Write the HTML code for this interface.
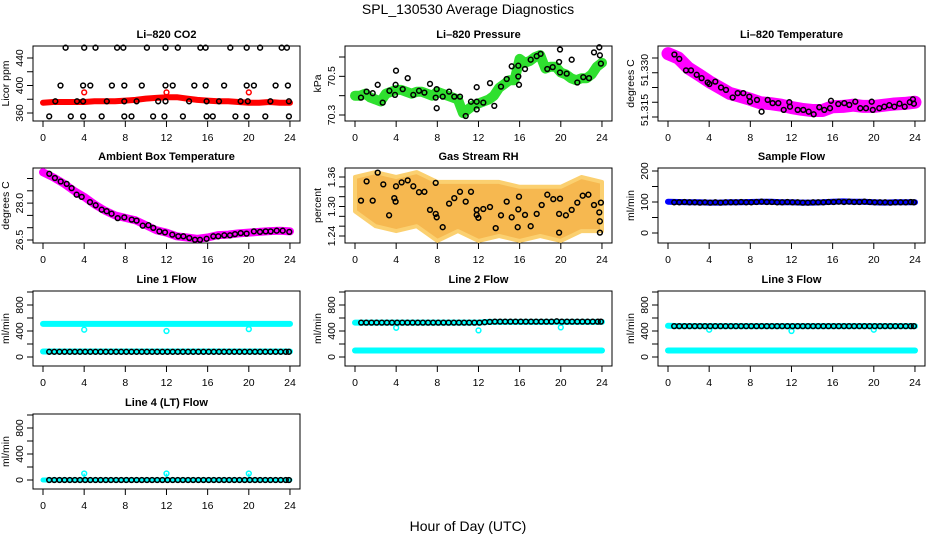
<!DOCTYPE html>
<html><head><meta charset="utf-8"><title>SPL_130530 Average Diagnostics</title>
<style>
html,body{margin:0;padding:0;background:#fff;}
svg{display:block;font-family:"Liberation Sans",sans-serif;}
</style></head>
<body>
<svg id="fig" width="936" height="540" viewBox="0 0 936 540" xmlns="http://www.w3.org/2000/svg">
<rect x="0" y="0" width="936" height="540" fill="#fff"/>
<text x="468" y="14" font-size="14" text-anchor="middle">SPL_130530  Average Diagnostics</text>
<text x="468" y="531" font-size="14" text-anchor="middle">Hour of Day (UTC)</text>
</svg>
<script>
// ---------- shared data ----------
const hrs = [0.6,1.1,1.6,2.1,2.6,3.1,3.6,4.1,4.6,5.1,5.6,6.1,6.6,7.1,7.6,8.1,8.6,9.1,9.6,10.1,10.6,11.1,11.6,12.1,12.6,13.1,13.6,14.1,14.6,15.1,15.6,16.1,16.6,17.1,17.6,18.1,18.6,19.1,19.6,20.1,20.6,21.1,21.6,22.1,22.6,23.1,23.6,23.9];
const bandHrs = [0,1,2,3,4,5,6,7,8,9,10,11,12,13,14,15,16,17,18,19,20,21,22,23,24];
const xTicks = [0,4,8,12,16,20,24];

// CO2
const co2Hrs = [2.2,4.0,5.1,7.2,7.8,10.1,11.9,13.1,15.3,15.8,18.2,19.8,21.1,23.2,23.7, 1.7,3.9,4.6,6.7,7.9,9.6,11.9,12.6,14.7,15.8,17.6,19.8,20.5,22.6,23.8, 1.2,3.3,3.9,6.2,7.9,9.1,11.2,11.9,14.2,15.9,17.1,19.2,19.9,22.1,23.9, 0.6,2.7,3.9,5.7,7.9,8.6,10.7,11.8,13.6,15.9,16.5,18.7,19.8,21.6,23.9];
const co2Vals = [455,455,455,455,455,455,455,455,455,455,455,455,455,455,455, 400,400,400,400,400,400,400,400,400,400,400,400,400,400,400, 377,377,377,377,377,377,377,377,377,377,377,377,377,377,377, 355,355,355,355,355,355,355,355,355,355,355,355,355,355,355];
const co2Red = [375,376,376,376,376,377,377,377,378,379,381,382,383,383,381,379,378,377,377,376,375,375,376,375,375];
const co2RedOutHrs = [4,12,20];
const co2RedOutVals = [390,390,390];

// Pressure
const prHrs = [0.58,1.13,1.72,2.21,2.69,3.34,3.89,3.95,3.98,4.64,5.12,5.67,6.22,6.74,7.29,7.84,7.94,7.94,8.52,9.14,9.65,10.2,10.76,11.27,11.83,11.83,11.83,12.47,13.12,13.54,14.19,14.74,15.23,15.87,15.87,15.94,16.52,17.07,17.66,18.04,18.69,19.21,19.83,19.92,19.92,20.57,21.06,21.6,22.19,22.74,23.23,23.74,23.8,23.9];
const prVals = [70.390,70.421,70.413,70.456,70.364,70.425,70.404,70.456,70.529,70.434,70.491,70.404,70.425,70.416,70.461,70.390,70.434,70.335,70.395,70.421,70.395,70.395,70.295,70.369,70.444,70.369,70.329,70.364,70.465,70.347,70.447,70.486,70.552,70.555,70.499,70.456,70.538,70.586,70.604,70.616,70.538,70.548,70.574,70.639,70.520,70.514,70.586,70.468,70.496,70.491,70.624,70.650,70.609,70.566];
const prBandHrs = [0,0.5,1,1.5,2,2.5,3,3.5,4,4.5,5,5.5,6,6.5,7,7.5,8,8.5,9,9.5,10,10.5,11,11.5,12,12.5,13,13.5,14,14.5,15,15.5,16,16.5,17,17.5,18,18.5,19,19.5,20,20.5,21,21.5,22,22.5,23,23.5,24];
const prGreen = [70.40,70.40,70.41,70.39,70.38,70.37,70.41,70.42,70.43,70.43,70.42,70.41,70.42,70.42,70.41,70.40,70.42,70.41,70.40,70.39,70.38,70.31,70.33,70.35,70.36,70.37,70.38,70.40,70.44,70.46,70.48,70.48,70.59,70.57,70.58,70.60,70.61,70.54,70.55,70.55,70.52,70.51,70.49,70.48,70.49,70.49,70.51,70.55,70.57];

// Li-820 temperature
const ltHrs = [0.62,1.10,1.75,2.24,2.79,3.27,3.86,4.02,4.6,5.15,5.64,6.29,6.77,7.32,7.90,7.97,8.65,9.1,9.69,10.17,10.72,11.24,11.79,11.86,12.6,13.15,13.67,14.16,14.7,15.19,15.84,15.74,16.55,17.13,17.62,18.2,18.69,19.24,19.8,19.9,20.53,21.02,21.51,22.0,22.5,23.0,23.5,23.8,23.9];
const ltVals = [51.3362,51.3347,51.3308,51.3308,51.3293,51.3282,51.3267,51.3262,51.3270,51.3250,51.3242,51.3216,51.3231,51.3231,51.3219,51.3202,51.3208,51.3168,51.3208,51.3197,51.3197,51.3174,51.3200,51.3185,51.3174,51.3174,51.3168,51.3159,51.3183,51.3174,51.3205,51.3180,51.3194,51.3197,51.3191,51.3202,51.3180,51.3180,51.3202,51.3174,51.3180,51.3185,51.3190,51.3185,51.3195,51.3185,51.3200,51.3210,51.3195];
const ltBand = [51.3365,51.3350,51.3315,51.3293,51.3270,51.3250,51.3230,51.3220,51.3210,51.3198,51.3195,51.3190,51.3182,51.3176,51.3172,51.3172,51.3185,51.3186,51.3190,51.3186,51.3186,51.3190,51.3194,51.3196,51.3200];

// Ambient temperature
const abHrs = [0.61,1.16,1.72,2.30,2.78,3.27,3.76,4.57,5.12,5.70,6.19,6.67,7.26,7.90,8.62,9.10,9.69,10.24,10.72,11.31,11.86,12.57,13.15,13.64,14.22,14.77,15.26,15.90,16.55,17.04,17.62,18.17,18.66,19.21,19.79,20.5,21.09,21.64,22.12,22.71,23.29,23.94];
const abVals = [29.19,29.02,28.88,28.78,28.61,28.34,28.25,28.04,27.91,27.73,27.67,27.57,27.39,27.42,27.33,27.29,27.08,27.10,26.99,26.85,26.81,26.72,26.65,26.65,26.58,26.51,26.51,26.55,26.65,26.65,26.69,26.69,26.74,26.78,26.76,26.85,26.83,26.85,26.85,26.88,26.88,26.83];
const abBand = [29.25,29.05,28.80,28.50,28.25,27.95,27.70,27.50,27.40,27.30,27.10,26.90,26.80,26.65,26.60,26.55,26.60,26.70,26.72,26.77,26.80,26.83,26.86,26.88,26.85];

// Gas stream RH
const rhHrs = [0.58,1.13,1.72,2.21,2.75,3.31,3.82,3.95,3.98,4.53,5.12,5.67,6.22,6.74,7.29,7.84,7.84,7.94,8.52,9.14,9.65,10.2,10.76,11.27,11.83,11.83,11.99,12.47,13.12,13.67,14.19,14.74,15.23,15.81,15.87,15.94,16.52,17.07,17.66,18.14,18.69,19.27,19.83,19.83,19.92,20.50,21.06,21.6,22.13,22.68,23.23,23.74,23.8,23.8,23.9];
const rhVals = [1.312,1.351,1.312,1.369,1.345,1.282,1.317,1.310,1.341,1.349,1.353,1.341,1.329,1.330,1.293,1.348,1.285,1.278,1.258,1.306,1.317,1.330,1.310,1.330,1.293,1.283,1.277,1.295,1.299,1.256,1.282,1.310,1.278,1.258,1.294,1.320,1.283,1.260,1.285,1.303,1.324,1.315,1.247,1.285,1.316,1.282,1.293,1.308,1.322,1.324,1.303,1.288,1.270,1.247,1.308];
const rhBandHrs = [0,2,4,6,8,10,12,14,16,18,20,22,24];
const rhUpper = [1.36,1.37,1.36,1.37,1.35,1.35,1.35,1.35,1.34,1.34,1.34,1.36,1.35];
const rhLower = [1.29,1.26,1.25,1.26,1.23,1.25,1.23,1.24,1.23,1.24,1.23,1.25,1.25];

// Sample flow
const sfVals = [99,99,100,99,99,98,99,98,99,98,99,99,99,100,99,99,100,101,100,100,99,99,100,99,99,98,98,99,99,99,100,100,101,100,101,100,100,101,100,99,99,99,98,99,99,99,100,99];
const sfBand = [101,100,99,99,98,98,99,99,100,101,101,99,99,98,98,99,101,102,101,101,99,98,99,99,99];

// Line flows
const l1Black = [80,80,80,80,80,80,80,80,80,80,80,80,80,80,80,80,80,80,80,80,80,80,80,80,80,80,80,80,80,80,80,80,80,80,80,80,80,80,80,80,80,80,80,80,80,80,80,80];
const l1CyanHigh = [510,510,510,510,510,510,510,510,510,510,510,510,510,510,510,510,510,510,510,510,510,510,510,510,510];
const l1CyanLow = [85,85,85,85,85,85,85,85,85,85,85,85,85,85,85,85,85,85,85,85,85,85,85,85,85];
const l1DipHrs = [4,12,20];
const l1DipVals = [420,400,430];

const l2Black = [530,530,530,530,530,530,530,530,530,530,530,530,530,530,530,530,530,530,530,530,530,530,530,530,535,540,545,545,545,545,545,545,545,545,545,545,545,545,550,545,545,545,545,545,545,545,545,545];
const l2CyanHigh = [530,530,530,530,530,530,530,530,530,530,530,530,530,540,540,540,540,540,540,540,540,540,540,540,540];
const l2CyanLow = [100,100,100,100,100,100,100,100,100,100,100,100,100,100,100,100,100,100,100,100,100,100,100,100,100];
const l2DipHrs = [4,12,20];
const l2DipVals = [450,410,455];

const l3Black = [475,475,475,475,475,475,475,475,475,475,475,475,475,475,475,475,475,475,475,475,475,475,475,475,475,475,475,475,475,475,475,475,475,475,475,475,475,475,475,475,475,475,475,475,475,475,475,475];
const l3CyanHigh = [480,475,475,475,475,475,475,475,475,475,475,475,475,475,475,475,475,475,475,475,475,475,475,475,475];
const l3CyanLow = [100,100,100,100,100,100,100,100,100,100,100,100,100,100,100,100,100,100,100,100,100,100,100,100,100];
const l3DipHrs = [4,12,20];
const l3DipVals = [420,400,420];

const l4Black = [0,0,0,0,0,0,0,0,0,0,0,0,0,0,0,0,0,0,0,0,0,0,0,0,0,0,0,0,0,0,0,0,0,0,0,0,0,0,0,0,0,0,0,0,0,0,0,0];
const l4CyanLow = [0,0,0,0,0,0,0,0,0,0,0,0,0,0,0,0,0,0,0,0,0,0,0,0,0];
const l4SpikeHrs = [4,12,20];
const l4SpikeVals = [100,100,100];

// ---------- drawing ----------
const NS = 'http://www.w3.org/2000/svg';
const svg = document.getElementById('fig');
const colLeft = [33, 345, 658];
const rowTop = [46, 168, 291, 414];
const BW = 267, BH = 75;

function mk(tag, parent) {
  const e = document.createElementNS(NS, tag);
  parent.appendChild(e);
  return e;
}

function makePanel(cfg) {
  const g = mk('g', svg);
  
  
  const L = colLeft[cfg.col], T = rowTop[cfg.row];
  const xs = h => L + 10 + h * 10.29;
  const ys = v => T + cfg.o0 + (v - cfg.v0) * (cfg.o1 - cfg.o0) / (cfg.v1 - cfg.v0);
  const box = mk('rect', g);
  box.setAttribute('x', L); box.setAttribute('y', T); box.setAttribute('width', BW); box.setAttribute('height', BH);
  box.setAttribute('fill', 'none'); box.setAttribute('stroke', '#000'); box.setAttribute('stroke-width', '1');
  
  
  const t = mk('text', g);
  t.setAttribute('x', L + BW / 2); t.setAttribute('y', T - 8); t.setAttribute('text-anchor', 'middle');
  t.setAttribute('font-size', '11'); t.setAttribute('font-weight', 'bold');
  t.textContent = cfg.title;
  
  
  const yl = mk('text', g);
  const ylc = T + BH / 2;
  yl.setAttribute('x', L - 24); yl.setAttribute('y', ylc); yl.setAttribute('text-anchor', 'middle');
  yl.setAttribute('font-size', '10.5'); yl.setAttribute('transform', 'rotate(-90 ' + (L - 24) + ' ' + ylc + ')');
  yl.textContent = cfg.ylab;
  
  
  xTicks.forEach(h => {
    const tk = mk('line', g);
    tk.setAttribute('x1', xs(h)); tk.setAttribute('x2', xs(h)); tk.setAttribute('y1', T + BH); tk.setAttribute('y2', T + BH + 6);
    tk.setAttribute('stroke', '#000');
    
    
    const tl = mk('text', g);
    tl.setAttribute('x', xs(h)); tl.setAttribute('y', T + BH + 20); tl.setAttribute('text-anchor', 'middle');
    tl.setAttribute('font-size', '10.5');
    tl.textContent = h;
    
    
  });
  cfg.yticks.forEach(v => {
    const tk = mk('line', g);
    tk.setAttribute('x1', L - 6); tk.setAttribute('x2', L); tk.setAttribute('y1', ys(v)); tk.setAttribute('y2', ys(v));
    tk.setAttribute('stroke', '#000');
    
    
  });
  cfg.ylabels.forEach(lb => {
    const yy = lb.y !== undefined ? T + lb.y : ys(lb.v);
    const tl = mk('text', g);
    tl.setAttribute('x', L - 10); tl.setAttribute('y', yy); tl.setAttribute('text-anchor', 'middle');
    tl.setAttribute('font-size', '10.5');
    tl.setAttribute('transform', 'rotate(-90 ' + (L - 10) + ' ' + yy + ')');
    tl.textContent = lb.t;
    
    
  });
  const clip = mk('g', g);
  return {g: clip, xs, ys, L, T};
}

function band(p, hours, vals, color, w, name) {
  const pl = mk('polyline', p.g);
  pl.setAttribute('points', hours.map((h, i) => p.xs(h).toFixed(1) + ',' + p.ys(vals[i]).toFixed(1)).join(' '));
  pl.setAttribute('fill', 'none'); pl.setAttribute('stroke', color); pl.setAttribute('stroke-width', w);
  pl.setAttribute('stroke-linejoin', 'round'); pl.setAttribute('stroke-linecap', 'round');
  
  
}

function points(p, hours, vals, color, name, r) {
  hours.forEach((h, i) => {
    const c = mk('circle', p.g);
    c.setAttribute('cx', p.xs(h).toFixed(1)); c.setAttribute('cy', p.ys(vals[i]).toFixed(1));
    c.setAttribute('r', r || 2.4); c.setAttribute('fill', 'none'); c.setAttribute('stroke', color); c.setAttribute('stroke-width', '1.5');
    
    
  });
}

const flowTicks = [0,200,400,600,800,1000];
const flowLabels = [{v:0,t:'0'},{v:400,t:'400'},{v:800,t:'800'}];

let p = makePanel({name:'co2', col:0,row:0, v0:360,o0:67, v1:440,o1:12, title:'Li\u2013820 CO2', ylab:'Licor ppm',
  yticks:[360,380,400,420,440], ylabels:[{v:360,t:'360'},{v:400,t:'400'},{v:440,t:'440'}]});
band(p, bandHrs, co2Red, '#ff0000', 6, 'co2-red-series');
points(p, co2RedOutHrs, co2RedOutVals, '#ff0000', 'co2-red-point');
points(p, co2Hrs, co2Vals, '#000', 'co2-black-point');

p = makePanel({name:'pressure', col:1,row:0, v0:70.3,o0:69, v1:70.6,o1:11, title:'Li\u2013820 Pressure', ylab:'kPa',
  yticks:[70.3,70.4,70.5,70.6], ylabels:[{v:70.3,t:'70.3'},{v:70.5,t:'70.5'}]});
band(p, prBandHrs, prGreen, '#2fe02f', 10, 'pressure-green-series');
points(p, prHrs, prVals, '#000', 'pressure-black-point');

p = makePanel({name:'li820-temp', col:2,row:0, v0:51.315,o0:71, v1:51.335,o1:12, title:'Li\u2013820 Temperature', ylab:'degrees C',
  yticks:[51.315,51.32,51.325,51.33,51.335], ylabels:[{y:24,t:'51.330'},{y:64,t:'51.315'}]});
band(p, bandHrs, ltBand, '#ff00ff', 13, 'li820-temp-magenta-series');
points(p, ltHrs, ltVals, '#000', 'li820-temp-black-point');

p = makePanel({name:'ambient-temp', col:0,row:1, v0:26.5,o0:72, v1:29.0,o1:10.5, title:'Ambient Box Temperature', ylab:'degrees C',
  yticks:[26.5,27.0,27.5,28.0,28.5,29.0], ylabels:[{v:26.5,t:'26.5'},{v:28.0,t:'28.0'}]});
band(p, bandHrs, abBand, '#ff00ff', 8, 'ambient-temp-magenta-series');
points(p, abHrs, abVals, '#000', 'ambient-temp-black-point');

p = makePanel({name:'gas-rh', col:1,row:1, v0:1.24,o0:68, v1:1.36,o1:9, title:'Gas Stream RH', ylab:'percent',
  yticks:[1.24,1.26,1.28,1.30,1.32,1.34,1.36], ylabels:[{v:1.24,t:'1.24'},{v:1.30,t:'1.30'},{v:1.36,t:'1.36'}]});
{
  const up = rhBandHrs.map((h, i) => p.xs(h).toFixed(1) + ',' + p.ys(rhUpper[i]).toFixed(1));
  const lo = rhBandHrs.map((h, i) => p.xs(h).toFixed(1) + ',' + p.ys(rhLower[i]).toFixed(1)).reverse();
  const pg = mk('polygon', p.g);
  pg.setAttribute('points', up.concat(lo).join(' '));
  pg.setAttribute('fill', '#f6b850'); pg.setAttribute('stroke', '#fbd070'); pg.setAttribute('stroke-width', '4'); pg.setAttribute('stroke-linejoin', 'round');
  
  
}
points(p, rhHrs, rhVals, '#000', 'gas-rh-black-point');

p = makePanel({name:'sample-flow', col:2,row:1, v0:0,o0:65, v1:200,o1:3, title:'Sample Flow', ylab:'ml/min',
  yticks:[0,50,100,150,200], ylabels:[{v:0,t:'0'},{v:100,t:'100'},{v:200,t:'200'}]});
band(p, bandHrs, sfBand, '#0000ff', 6, 'sample-flow-blue-series');
points(p, hrs, sfVals, '#000', 'sample-flow-black-point');

p = makePanel({name:'line1-flow', col:0,row:2, v0:0,o0:66, v1:800,o1:14, title:'Line 1 Flow', ylab:'ml/min', yticks:flowTicks, ylabels:flowLabels});
band(p, bandHrs, l1CyanHigh, '#00ffff', 6, 'line1-cyan-high-series');
band(p, bandHrs, l1CyanLow, '#00ffff', 6, 'line1-cyan-low-series');
points(p, l1DipHrs, l1DipVals, '#00ffff', 'line1-cyan-dip');
points(p, hrs, l1Black, '#000', 'line1-black-point');

p = makePanel({name:'line2-flow', col:1,row:2, v0:0,o0:66, v1:800,o1:14, title:'Line 2 Flow', ylab:'ml/min', yticks:flowTicks, ylabels:flowLabels});
band(p, bandHrs, l2CyanHigh, '#00ffff', 6, 'line2-cyan-high-series');
band(p, bandHrs, l2CyanLow, '#00ffff', 6, 'line2-cyan-low-series');
points(p, l2DipHrs, l2DipVals, '#00ffff', 'line2-cyan-dip');
points(p, hrs, l2Black, '#000', 'line2-black-point');

p = makePanel({name:'line3-flow', col:2,row:2, v0:0,o0:66, v1:800,o1:14, title:'Line 3 Flow', ylab:'ml/min', yticks:flowTicks, ylabels:flowLabels});
band(p, bandHrs, l3CyanHigh, '#00ffff', 6, 'line3-cyan-high-series');
band(p, bandHrs, l3CyanLow, '#00ffff', 6, 'line3-cyan-low-series');
points(p, l3DipHrs, l3DipVals, '#00ffff', 'line3-cyan-dip');
points(p, hrs, l3Black, '#000', 'line3-black-point');

p = makePanel({name:'line4-flow', col:0,row:3, v0:0,o0:66, v1:800,o1:14, title:'Line 4 (LT) Flow', ylab:'ml/min', yticks:flowTicks, ylabels:flowLabels});
band(p, bandHrs, l4CyanLow, '#00ffff', 5, 'line4-cyan-series');
l4SpikeHrs.forEach((h, i) => {
  const ln = mk('line', p.g);
  ln.setAttribute('x1', p.xs(h)); ln.setAttribute('x2', p.xs(h)); ln.setAttribute('y1', p.ys(0)); ln.setAttribute('y2', p.ys(l4SpikeVals[i]));
  ln.setAttribute('stroke', '#00ffff'); ln.setAttribute('stroke-width', '1.5');
  
  
});
points(p, l4SpikeHrs, l4SpikeVals, '#00ffff', 'line4-cyan-spike-point');
points(p, hrs, l4Black, '#000', 'line4-black-point');
</script>
</body></html>
